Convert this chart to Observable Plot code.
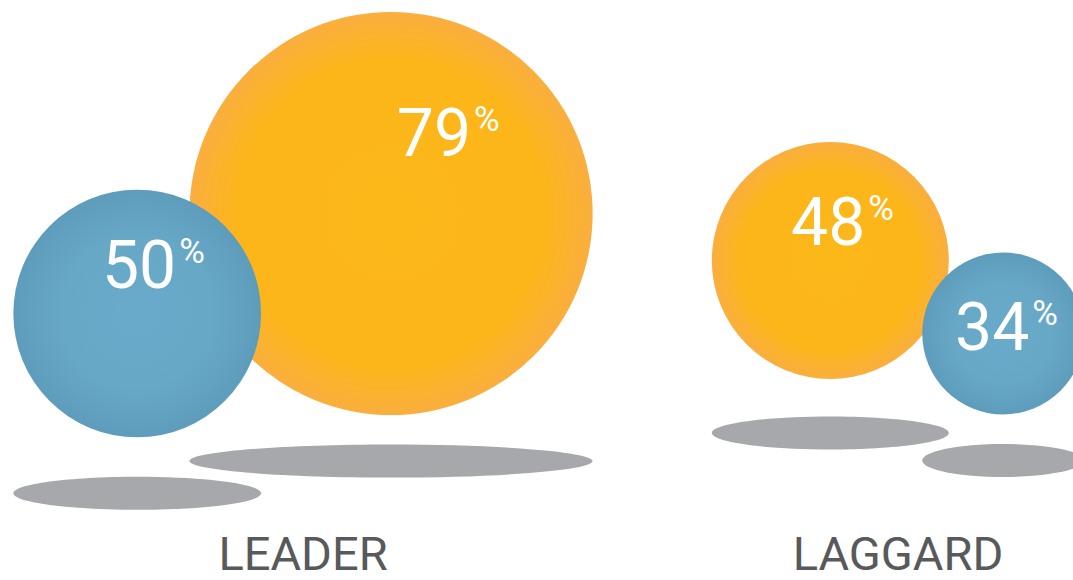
<!DOCTYPE html>
<html>
<head>
<meta charset="utf-8">
<script src="https://cdn.jsdelivr.net/npm/d3@7"></script>
<script src="https://cdn.jsdelivr.net/npm/@observablehq/plot@0.6"></script>
<style>
  html, body { margin: 0; padding: 0; background: #ffffff; overflow: hidden; }
  #chart svg { display: block; }
</style>
</head>
<body>
<div id="chart"></div>
<script>
// ---- data ----
const groups = ["LEADER", "LAGGARD"];
const seriesKeys = ["orange", "blue"];
const leaderValues = [79, 50];
const laggardValues = [48, 34];

// ---- presentation ----
const W = 1073, H = 580;
const colors = {
  orange: {inner: "#FCB719", mid: "#FCB61A", midStop: "76%", outer: "#FAAE3F"},
  blue:   {inner: "#69A9C9", mid: "#68A8C7", midStop: "60%", outer: "#5E9CBB"}
};
// per-group arrangement of the bubble pair
const arrangement = {
  LEADER:  {smallSide: -1, spacing: 0.78,  bigCy: 213, smallDrop: 100, shadowGap: {big: 46, small: 56},
            label: {orange: [80, -58], blue: [39, -26]}},
  LAGGARD: {smallSide:  1, spacing: 0.867, bigCy: 260, smallDrop: 73,  shadowGap: {big: 54, small: 46},
            label: {orange: [35, -16], blue: [26, 16]}}
};

const rOptions = {type: "linear", domain: [3.8, 79], range: [0, 201.6]};
const rScale = Plot.scale({r: rOptions});
const xBand = Plot.scale({x: {type: "band", domain: groups, range: [5, 1195], padding: 0}});

const valuesByGroup = {LEADER: leaderValues, LAGGARD: laggardValues};
const rows = [];
for (const g of groups) {
  const a = arrangement[g];
  const items = seriesKeys.map((s, i) => ({group: g, series: s, value: valuesByGroup[g][i]}));
  const [big, small] = items.slice().sort((p, q) => q.value - p.value);
  const rb = rScale.apply(big.value), rs = rScale.apply(small.value);
  const d = a.spacing * (rb + rs);
  const span = rb + rs + d;
  const c = xBand.apply(g) + xBand.bandwidth / 2;
  if (a.smallSide < 0) { small.cx = c - span / 2 + rs; big.cx = small.cx + d; }
  else { big.cx = c - span / 2 + rb; small.cx = big.cx + d; }
  big.cy = a.bigCy; small.cy = a.bigCy + a.smallDrop;
  big.sy = big.cy + rb + a.shadowGap.big;
  small.sy = small.cy + rs + a.shadowGap.small;
  for (const it of items) {
    it.lx = it.cx + a.label[it.series][0];
    it.ly = it.cy + a.label[it.series][1];
    rows.push(it);
  }
}

const shadowSymbol = {
  draw(context, size) {
    const rx = Math.sqrt(size / Math.PI), ry = 16.5, k = 0.5523;
    context.moveTo(rx, 0);
    context.bezierCurveTo(rx, ry * k, rx * k, ry, 0, ry);
    context.bezierCurveTo(-rx * k, ry, -rx, ry * k, -rx, 0);
    context.bezierCurveTo(-rx, -ry * k, -rx * k, -ry, 0, -ry);
    context.bezierCurveTo(rx * k, -ry, rx, -ry * k, rx, 0);
    context.closePath();
  }
};

const defsMark = () => {
  const defs = d3.create("svg:defs");
  for (const s of seriesKeys) {
    const g = defs.append("radialGradient").attr("id", "grad-" + s)
      .attr("cx", "50%").attr("cy", "50%").attr("r", "50%");
    g.append("stop").attr("offset", "0%").attr("stop-color", colors[s].inner);
    g.append("stop").attr("offset", colors[s].midStop).attr("stop-color", colors[s].mid);
    g.append("stop").attr("offset", "100%").attr("stop-color", colors[s].outer);
  }
  return defs.node();
};

const numFont = "Roboto, 'DejaVu Sans', sans-serif";

const chart = Plot.plot({
  width: W,
  height: H,
  margin: 0,
  x: {type: "identity", axis: null},
  y: {type: "identity", axis: null},
  r: rOptions,
  style: {background: "#ffffff", overflow: "hidden"},
  marks: [
    defsMark,
    Plot.dot(rows, {x: "cx", y: "sy", r: "value", symbol: shadowSymbol, fill: "#A7A8AB", stroke: "none"}),
    Plot.dot(rows.filter(d => d.series === "orange"), {x: "cx", y: "cy", r: "value", fill: "url(#grad-orange)", stroke: "none"}),
    Plot.dot(rows.filter(d => d.series === "blue"), {x: "cx", y: "cy", r: "value", fill: "url(#grad-blue)", stroke: "none"}),
    Plot.text(rows, {x: "lx", y: "ly", text: d => String(d.value), textAnchor: "end", lineAnchor: "bottom",
      fontSize: 66, fontFamily: numFont, fontWeight: 400, fill: "#ffffff"}),
    Plot.text(rows, {x: d => d.lx + 3, y: d => d.ly - 49, text: () => "%", textAnchor: "start", lineAnchor: "top",
      fontSize: 35, fontFamily: numFont, fontWeight: 400, fill: "#ffffff"}),
    Plot.text(groups, {x: g => xBand.apply(g) + xBand.bandwidth / 2, y: H - 11, text: g => g, textAnchor: "middle",
      lineAnchor: "bottom", fontSize: 47, fontFamily: numFont, fontWeight: 400, fill: "#58595B"})
  ]
});
document.getElementById("chart").appendChild(chart);
</script>
</body>
</html>
